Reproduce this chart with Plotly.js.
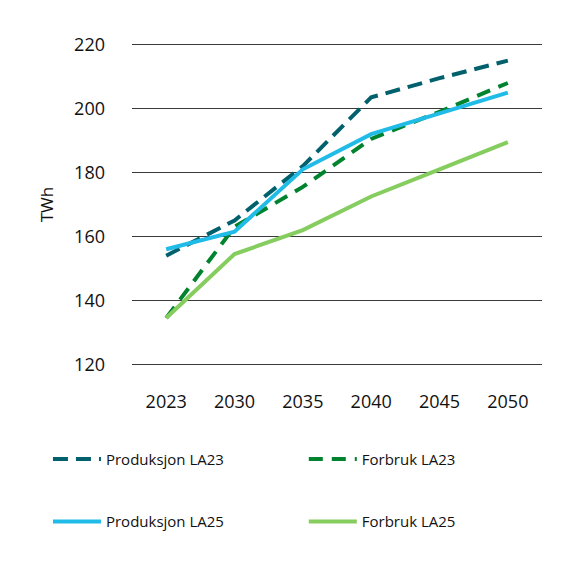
<!DOCTYPE html>
<html>
<head>
<meta charset="utf-8">
<script src="https://cdn.plot.ly/plotly-3.0.1.min.js"></script>
<style>
  html, body { margin: 0; padding: 0; background: #ffffff; }
  #chart { width: 576px; height: 569px; }
</style>
</head>
<body>
<div id="chart"></div>
<script>
const years = ['2023', '2030', '2035', '2040', '2045', '2050']

// TWh
const produksjonLA23 = [154, 165, 182, 203.5, 209.5, 215]
const forbrukLA23 = [134.5, 163, 175.5, 190.5, 199, 208]
const produksjonLA25 = [156, 161.5, 181, 192, 198.5, 205]
const forbrukLA25 = [134.5, 154.5, 162, 172.5, 181, 189.5]

const seriesNames = ['Produksjon LA23', 'Forbruk LA23', 'Produksjon LA25', 'Forbruk LA25']

const font = "'Open Sans', 'Noto Sans', sans-serif"

function lineTrace(name, values, color, dash, legend) {
  return {
    x: years,
    y: values,
    name: name,
    type: 'scatter',
    mode: 'lines',
    line: { color: color, width: 4, dash: dash },
    legend: legend,
    legendgroup: name
  }
}

const traces = [
  lineTrace(seriesNames[0], produksjonLA23, '#00616d', '15px,8px', 'legend'),
  lineTrace(seriesNames[1], forbrukLA23, '#00832f', '14px,9px', 'legend2'),
  lineTrace(seriesNames[2], produksjonLA25, '#20bbe6', 'solid', 'legend'),
  lineTrace(seriesNames[3], forbrukLA25, '#85cd5f', 'solid', 'legend2')
]

// legends sit below the plot, positioned in paper units
const legendBase = {
  orientation: 'v',
  xanchor: 'left',
  yanchor: 'top',
  y: -0.238,
  bgcolor: 'rgba(0,0,0,0)',
  font: { family: font, size: 15, color: '#111111' },
  tracegroupgap: 40,
  itemwidth: 48,
  traceorder: 'grouped'
}

const layout = {
  width: 576,
  height: 569,
  paper_bgcolor: '#ffffff',
  plot_bgcolor: '#ffffff',
  margin: { l: 132, r: 34, t: 43, b: 203 },
  font: { family: font, size: 17, color: '#111111' },
  showlegend: true,
  xaxis: {
    type: 'category',
    range: [-0.5, 5.5],
    showgrid: false,
    zeroline: false,
    showline: false,
    ticks: '',
    tickangle: 0,
    ticklabelstandoff: 23,
    tickfont: { family: font, size: 18, color: '#111111' }
  },
  yaxis: {
    range: [119.5, 220.5],
    dtick: 20,
    tick0: 120,
    showgrid: true,
    gridcolor: '#3a3a3a',
    gridwidth: 1.2,
    zeroline: false,
    showline: false,
    ticks: '',
    ticklabelstandoff: 26,
    tickfont: { family: font, size: 18, color: '#111111' },
    title: {
      text: 'TWh',
      font: { family: font, size: 17, color: '#111111' },
      standoff: 16
    }
  },
  legend: Object.assign({}, legendBase, { x: -0.205 }),
  legend2: Object.assign({}, legendBase, { x: 0.419 })
}

Plotly.newPlot('chart', traces, layout, { displayModeBar: false, staticPlot: true })
</script>
</body>
</html>
